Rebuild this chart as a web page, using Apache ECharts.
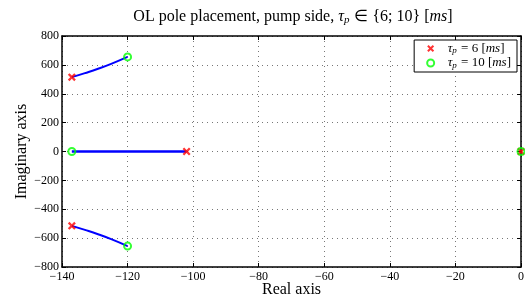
<!DOCTYPE html>
<html>
<head>
<meta charset="utf-8">
<script src="https://cdn.jsdelivr.net/npm/echarts@6/dist/echarts.min.js"></script>
<style>
  html, body { margin: 0; padding: 0; background: #fff; }
  #chart { width: 525px; height: 297px; }
</style>
</head>
<body>
<div id="chart"></div>
<script>
// pole locations
var pole6Re = [-137, -137, -102, 0];
var pole6Im = [515, -515, 0, 0];
var pole10Re = [-120, -120, -137, 0];
var pole10Im = [655, -655, 0, 0];

// locus branches
var upperRe = [-137, -133, -129, -125, -120];
var upperIm = [515, 543, 573, 607, 655];
var lowerRe = [-137, -133, -129, -125, -120];
var lowerIm = [-515, -543, -573, -607, -655];
var midRe = [-137, -102];
var midIm = [0, 0];

var font = 'Liberation Serif';

function pairs(re, im) {
    var out = [];
    for (var i = 0; i < re.length; i++) out.push([re[i], im[i]]);
    return out;
}
function minus(v) {
    return String(v).replace('-', '\u2212');
}

var crossPath = 'path://M0,2L2,0L5,3L8,0L10,2L7,5L10,8L8,10L5,7L2,10L0,8L3,5Z';

var mathRich = {
    n: { fontFamily: font, fontSize: 16, fontWeight: 'normal', color: '#000' },
    i: { fontFamily: font, fontSize: 16, fontWeight: 'normal', fontStyle: 'italic', color: '#000' },
    s: { fontFamily: font, fontSize: 11, fontWeight: 'normal', fontStyle: 'italic', color: '#000', padding: [7, 1, 0, 0] }
};
var legendRich = {
    n: { fontFamily: font, fontSize: 13, color: '#000' },
    i: { fontFamily: font, fontSize: 13, fontStyle: 'italic', color: '#000' },
    s: { fontFamily: font, fontSize: 9, fontStyle: 'italic', color: '#000', padding: [5, 1, 0, 0] }
};

var chart = echarts.init(document.getElementById('chart'));

var axisCommon = {
    type: 'value',
    axisLine: { show: true, onZero: false, lineStyle: { color: '#000', width: 1.5 } },
    axisTick: { show: true, inside: true, length: 4, lineStyle: { color: '#000', width: 1 } },
    splitLine: { show: false }
};
var gridLine = { show: true, lineStyle: { type: [1, 4], color: '#777', width: 1 } };

chart.setOption({
    animation: false,
    backgroundColor: '#fff',
    title: {
        // '}' kept outside the rich tags so the parser does not eat it
        text: '{n|OL pole placement, pump side, }{i|τ}{s|p}{n| ∈ {6; 10}}{n| [}{i|ms}{n|]}',
        left: 288,
        textAlign: 'center',
        top: 3,
        textStyle: { fontFamily: font, fontSize: 16, fontWeight: 'normal', color: '#000', rich: mathRich }
    },
    legend: {
        data: ['p6', 'p10'],
        right: 8,
        top: 40,
        orient: 'vertical',
        backgroundColor: '#fff',
        borderColor: '#000',
        borderWidth: 1,
        borderRadius: 0,
        padding: [2, 6, 2, 12],
        itemGap: 1,
        itemWidth: 24,
        itemHeight: 7,
        formatter: function (name) {
            var v = name === 'p6' ? '6' : '10';
            return '{i|τ}{s|p}{n| = ' + v + ' [}{i|ms}{n|]}';
        },
        textStyle: { fontFamily: font, fontSize: 13, color: '#000', rich: legendRich }
    },
    grid: { left: 62, right: 4, top: 36, bottom: 30, containLabel: false, outerBoundsMode: 'none' },
    xAxis: [
        Object.assign({}, axisCommon, {
            min: -140, max: 0, interval: 20,
            position: 'bottom',
            name: 'Real axis',
            nameLocation: 'middle',
            nameMoveOverlap: false,
            nameGap: 15,
            nameTextStyle: { fontFamily: font, fontSize: 16, color: '#000' },
            axisLabel: {
                margin: 4,
                fontFamily: font, fontSize: 12, color: '#000',
                formatter: function (v) { return minus(v); }
            },
            splitLine: gridLine
        }),
        Object.assign({}, axisCommon, {
            min: -140, max: 0, interval: 20,
            position: 'top',
            axisLabel: { show: false }
        })
    ],
    yAxis: [
        Object.assign({}, axisCommon, {
            min: -800, max: 800, interval: 200,
            position: 'left',
            name: 'Imaginary axis',
            nameLocation: 'middle',
            nameMoveOverlap: false,
            nameGap: 32,
            nameTextStyle: { fontFamily: font, fontSize: 16, color: '#000' },
            axisLabel: {
                margin: 3,
                fontFamily: font, fontSize: 12, color: '#000',
                formatter: function (v) { return minus(v); }
            },
            splitLine: gridLine
        }),
        Object.assign({}, axisCommon, {
            min: -800, max: 800, interval: 200,
            position: 'right',
            axisLabel: { show: false }
        })
    ],
    series: [
        {
            name: 'upper', type: 'line', data: pairs(upperRe, upperIm), smooth: true,
            symbol: 'none', lineStyle: { color: '#0000ff', width: 2 }, z: 2
        },
        {
            name: 'lower', type: 'line', data: pairs(lowerRe, lowerIm), smooth: true,
            symbol: 'none', lineStyle: { color: '#0000ff', width: 2 }, z: 2
        },
        {
            name: 'mid', type: 'line', data: pairs(midRe, midIm),
            symbol: 'none', lineStyle: { color: '#0000ff', width: 2.5 }, z: 2
        },
        {
            name: 'p6', type: 'scatter', data: pairs(pole6Re, pole6Im),
            symbol: crossPath, symbolSize: 8,
            itemStyle: { color: '#ff0000' }, z: 3
        },
        {
            name: 'p10', type: 'scatter', data: pairs(pole10Re, pole10Im),
            symbol: 'circle', symbolSize: 7,
            itemStyle: { color: 'rgba(255,255,255,0)', borderColor: '#00ff00', borderWidth: 2 }, z: 4
        }
    ]
});
</script>
</body>
</html>
